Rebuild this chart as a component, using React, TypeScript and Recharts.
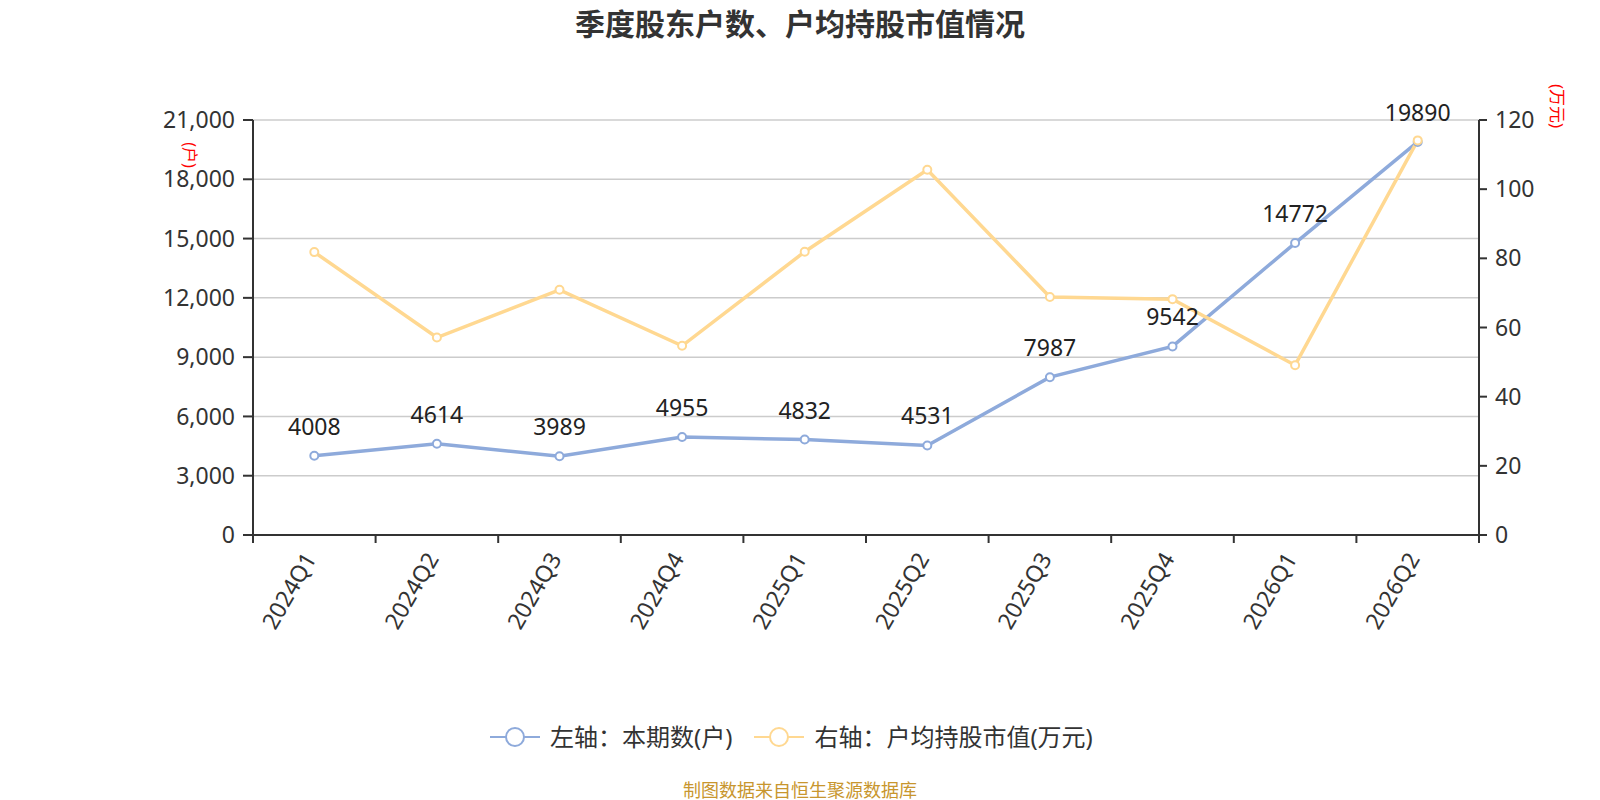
import { LineChart, Line, XAxis, YAxis, CartesianGrid, LabelList } from 'recharts';

const quarters = ['2024Q1', '2024Q2', '2024Q3', '2024Q4', '2025Q1', '2025Q2', '2025Q3', '2025Q4', '2026Q1', '2026Q2'];
const holders = [4008, 4614, 3989, 4955, 4832, 4531, 7987, 9542, 14772, 19890];
const avgValue = [81.8, 57.1, 70.9, 54.7, 81.9, 105.6, 68.8, 68.2, 49.1, 114.1];
const leftTicks = [0, 3000, 6000, 9000, 12000, 15000, 18000, 21000];
const rightTicks = [0, 20, 40, 60, 80, 100, 120];

const BLUE = '#8eaadb';
const YELLOW = '#ffd891';
const AXIS = '#333';
const FONT = '"Noto Sans", "Noto Sans CJK SC", sans-serif';
const HALF_BAND = 61.3;

const data = quarters.map((q, i) => ({ q, holders: holders[i], avg: avgValue[i] }));

// ticks sit on the band edges, labels at band centres, rotated
const XTick = (props: any) => {
  const { x, y, payload, index, visibleTicksCount } = props;
  const off = payload?.offset || HALF_BAND;
  const axisY = y - 12;
  const last = index === (visibleTicksCount ?? quarters.length) - 1;
  const lx = x - 5;
  const ly = axisY + 19;
  return (
    <g>
      <line x1={x - off} x2={x - off} y1={axisY} y2={axisY + 8} stroke={AXIS} strokeWidth={2} />
      {last && <line x1={x + off} x2={x + off} y1={axisY} y2={axisY + 8} stroke={AXIS} strokeWidth={2} />}
      <text
        x={lx}
        y={ly}
        transform={`rotate(-60, ${lx}, ${ly})`}
        textAnchor="end"
        dominantBaseline="central"
        fontSize={23}
        fill={AXIS}
        fontFamily={FONT}
      >
        {payload.value}
      </text>
    </g>
  );
};

const LegendIcon = ({ color }: { color: string }) => (
  <svg width={50} height={22} style={{ display: 'block' }}>
    <line x1={0} x2={50} y1={11} y2={11} stroke={color} strokeWidth={2} />
    <circle cx={25} cy={11} r={9} fill="#fff" stroke={color} strokeWidth={2} />
  </svg>
);

export default function App() {
  return (
    <div style={{ position: 'absolute', left: 0, top: 0, width: 1600, height: 800, background: '#fff', fontFamily: FONT }}>
      <div style={{ position: 'absolute', left: 0, top: 4, width: 1600, textAlign: 'center', fontSize: 30, fontWeight: 'bold', color: '#333', lineHeight: '40px' }}>
        季度股东户数、户均持股市值情况
      </div>

      <LineChart width={1600} height={800} data={data} margin={{ top: 120, right: 0, bottom: 0, left: 0 }}>
        <CartesianGrid vertical={false} stroke="#cccccc" strokeWidth={1.5} yAxisId="left" />
        <XAxis
          dataKey="q"
          height={265}
          interval={0}
          padding={{ left: HALF_BAND, right: HALF_BAND }}
          tickLine={false}
          tickSize={8}
          tickMargin={4}
          axisLine={{ stroke: AXIS, strokeWidth: 2 }}
          tick={<XTick />}
        />
        <YAxis
          yAxisId="left"
          width={253}
          domain={[0, 21000]}
          ticks={leftTicks}
          tickFormatter={(v: number) => v.toLocaleString('en-US')}
          tickSize={10}
          tickMargin={8}
          axisLine={{ stroke: AXIS, strokeWidth: 2 }}
          tickLine={{ stroke: AXIS, strokeWidth: 2 }}
          tick={{ fontSize: 23, fill: AXIS, fontFamily: FONT }}
        />
        <YAxis
          yAxisId="right"
          orientation="right"
          width={121}
          domain={[0, 120]}
          ticks={rightTicks}
          tickSize={8}
          tickMargin={8}
          axisLine={{ stroke: AXIS, strokeWidth: 2 }}
          tickLine={{ stroke: AXIS, strokeWidth: 2 }}
          tick={{ fontSize: 23, fill: AXIS, fontFamily: FONT }}
        />
        <Line
          yAxisId="left"
          type="linear"
          dataKey="holders"
          stroke={BLUE}
          strokeWidth={3.5}
          dot={{ r: 4, fill: '#fff', stroke: BLUE, strokeWidth: 2 }}
          isAnimationActive={false}
        >
          <LabelList dataKey="holders" position="top" offset={21} style={{ fontSize: 23, fill: '#222', fontFamily: FONT }} />
        </Line>
        <Line
          yAxisId="right"
          type="linear"
          dataKey="avg"
          stroke={YELLOW}
          strokeWidth={3.5}
          dot={{ r: 4, fill: '#fff', stroke: YELLOW, strokeWidth: 2 }}
          isAnimationActive={false}
        />
      </LineChart>

      <div style={{ position: 'absolute', left: 190, top: 155, transform: 'translate(-50%, -50%) rotate(90deg)', color: 'red', fontSize: 16, whiteSpace: 'nowrap', lineHeight: '18px' }}>
        (户)
      </div>
      <div style={{ position: 'absolute', left: 1557, top: 106, transform: 'translate(-50%, -50%) rotate(90deg)', color: 'red', fontSize: 17, whiteSpace: 'nowrap', lineHeight: '18px' }}>
        (万元)
      </div>

      <div style={{ position: 'absolute', left: 490, top: 726, display: 'flex', alignItems: 'center', fontSize: 24, color: '#333', lineHeight: '22px' }}>
        <LegendIcon color={BLUE} />
        <span style={{ marginLeft: 10 }}>左轴：本期数(户)</span>
        <span style={{ width: 22 }} />
        <LegendIcon color={YELLOW} />
        <span style={{ marginLeft: 10 }}>右轴：户均持股市值(万元)</span>
      </div>

      <div style={{ position: 'absolute', left: 0, top: 779, width: 1600, textAlign: 'center', fontSize: 18, color: '#c8962e', lineHeight: '22px' }}>
        制图数据来自恒生聚源数据库
      </div>
    </div>
  );
}
